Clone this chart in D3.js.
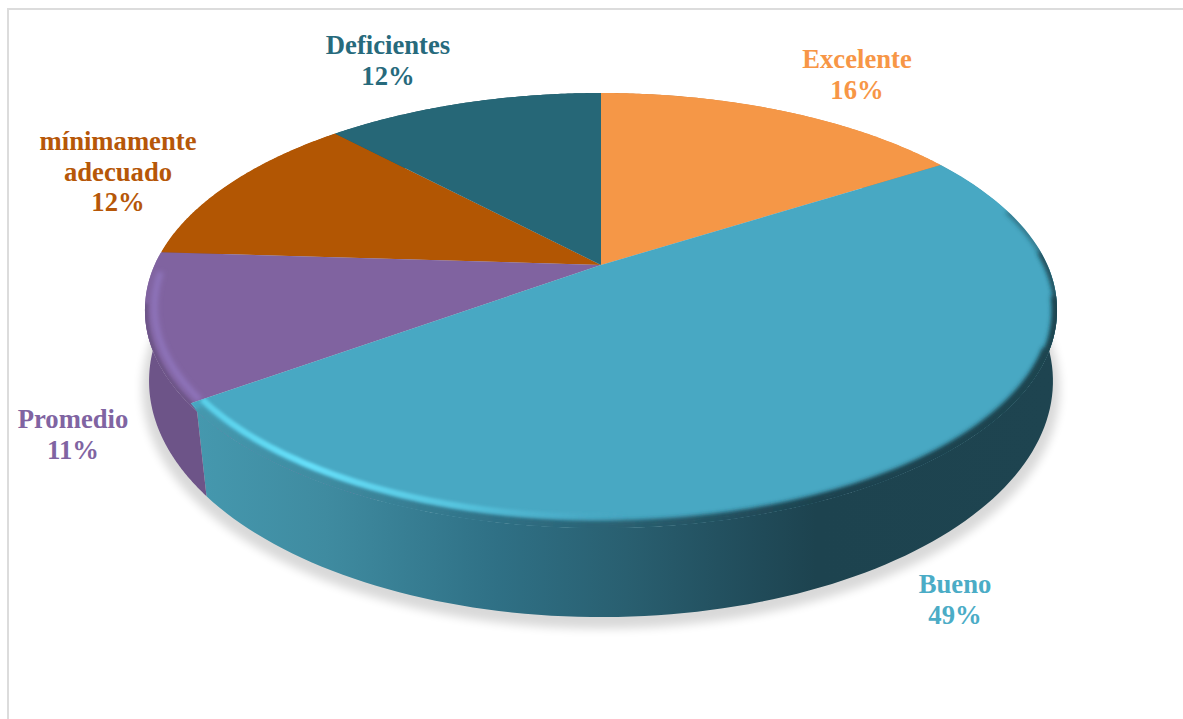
<!DOCTYPE html>
<html lang="es">
<head>
<meta charset="utf-8">
<title>Distribución por nivel</title>
<script src="https://cdn.jsdelivr.net/npm/d3@7"></script>
<style>
  html, body { margin: 0; padding: 0; background: #fff; }
  svg { display: block; }
  text { font-family: "Liberation Serif", serif; font-weight: 700; font-size: 26.67px; text-anchor: middle; }
</style>
</head>
<body>
<svg id="chart" width="1183" height="719"></svg>
<script>
// Category shares, clockwise from twelve o'clock
const categories = ["Excelente", "Bueno", "Promedio", "mínimamente adecuado", "Deficientes"];
const shares = [16, 49, 11, 12, 12];
const topColors = ["#f59747", "#48a8c3", "#8063a0", "#b25603", "#266777"];
const labelColors = ["#f79646", "#4bacc6", "#8064a2", "#b65708", "#276a7c"];
const labelLines = [["Excelente"], ["Bueno"], ["Promedio"], ["mínimamente", "adecuado"], ["Deficientes"]];

// Label block anchors: centre x and first baseline y
const labelX = [857, 955, 73, 118, 388];
const labelY = [68, 593, 428, 150, 54];
const lineHeight = 30.5;

// Perspective discs: the flat face, the outer lip of its bevel, and the lower rim
const topDisc = { x: 601, y: 265, a: 446.4, b: 207, k: -0.2037 };
const lipDisc = { x: 601, y: 273.5, a: 449.4, b: 211.2, k: -0.17 };
const baseDisc = { x: 601, y: 348, a: 447.5, b: 231.4, k: -0.14 };

function project(disc, angle, r = 1) {
  const u = r * Math.sin(angle), v = -r * Math.cos(angle);
  const d = 1 + disc.k * v;
  return [disc.x + disc.a * u / d, disc.y + disc.b * v / d];
}
const onTop = (a, r = 1) => project(topDisc, a, r);
const onLip = a => project(lipDisc, a);
const onBase = a => project(baseDisc, a);

const degrees = d => d * Math.PI / 180;
const angleSamples = (a0, a1) => d3.range(0, 121).map(i => d3.interpolateNumber(a0, a1)(i / 120));
const line = d3.line();

const arcs = d3.pie().sort(null).value(d => d)(shares);
const svg = d3.select("#chart");
const defs = svg.append("defs");

const blur = (id, dev) => defs.append("filter").attr("id", id)
  .attr("filterUnits", "userSpaceOnUse").attr("x", 0).attr("y", 0).attr("width", 1183).attr("height", 719)
  .append("feGaussianBlur").attr("stdDeviation", dev);
blur("soft", 2.4);
blur("softer", 1.5);
blur("shadowBlur", 5);

function hGradient(id, stops, x1, x2) {
  const g = defs.append("linearGradient").attr("id", id)
    .attr("gradientUnits", "userSpaceOnUse")
    .attr("x1", x1).attr("x2", x2).attr("y1", 0).attr("y2", 0);
  stops.forEach(([o, c, op]) => g.append("stop").attr("offset", o).attr("stop-color", c)
    .attr("stop-opacity", op === undefined ? 1 : op));
}

// Wall shading runs left to right across the front of the disc
const wallStops = [[0, "#4598ae"], [0.15, "#3f8ba0"], [0.35, "#2f7085"], [0.5, "#295f70"], [0.66, "#204a58"], [0.72, "#1d434f"], [1, "#1e4450"]];
hGradient("wallBueno", wallStops, 197, 1057);
hGradient("glowBueno", [[0, "#59cfe8", 1], [0.13, "#66e0fa", 1], [0.3, "#58c8e2", 0.9], [0.42, "#4fb6d2", 0.5], [0.5, "#4aa9c5", 0]], 197, 1057);

const wallFill = i => i === 1 ? "url(#wallBueno)" : d3.color(topColors[i]).darker(0.45).formatHex();

// Soft shadow on the page under the disc
const shadowDisc = { ...baseDisc, y: baseDisc.y + 7 };
const outline = angleSamples(0, 2 * Math.PI).map(a => project(shadowDisc, a, 1.015));
svg.append("path")
  .attr("d", line(outline) + "Z")
  .attr("fill", "#000").attr("opacity", 0.15)
  .attr("filter", "url(#shadowBlur)");

// Outer walls
svg.append("g").selectAll("path").data(arcs).join("path")
  .attr("d", d => {
    const s = angleSamples(d.startAngle, d.endAngle);
    return line(s.map(onLip).concat(s.slice().reverse().map(onBase))) + "Z";
  })
  .attr("fill", (d, i) => wallFill(i));

// Upper face of each slice
const slicePath = d => line([[topDisc.x, topDisc.y]].concat(angleSamples(d.startAngle, d.endAngle).map(a => onTop(a)))) + "Z";
const lipPath = (a0, a1) => {
  const s = angleSamples(a0, a1);
  return line(s.map(a => onTop(a)).concat(s.slice().reverse().map(onLip))) + "Z";
};
const topRim = (a0, a1, r) => line(angleSamples(a0, a1).map(a => onTop(a, r)));
const lipRim = (a0, a1) => line(angleSamples(a0, a1).map(onLip));

const faces = svg.append("g");
const paintFace = (d, i) => faces.append("path").attr("d", slicePath(d)).attr("fill", topColors[i]);
[0, 3, 4].forEach(i => paintFace(arcs[i], i));

// The two front slices carry a bevel: a lip past the face edge, shaded into the wall
function bevelGroup(i, fromDeg) {
  const d = arcs[i];
  const lipStart = degrees(fromDeg);
  const clipId = "bevel" + i;
  const clip = defs.append("clipPath").attr("id", clipId);
  clip.append("path").attr("d", slicePath(d));
  clip.append("path").attr("d", lipPath(lipStart, d.endAngle));
  faces.append("path").attr("d", lipPath(lipStart, d.endAngle)).attr("fill", topColors[i]);
  paintFace(d, i);
  return faces.append("g").attr("clip-path", `url(#${clipId})`);
}

const purple = arcs[2];
const purpleRim = bevelGroup(2, 205);
purpleRim.append("path").attr("d", lipRim(degrees(205), degrees(262))).attr("fill", "none")
  .attr("stroke", wallFill(2)).attr("stroke-width", 7).attr("filter", "url(#softer)");
purpleRim.append("path").attr("d", topRim(purple.startAngle, degrees(268), 0.98)).attr("fill", "none")
  .attr("stroke", "#8f74bc").attr("stroke-width", 6).attr("filter", "url(#soft)");

const teal = arcs[1];
const tealRim = bevelGroup(1, 90);
// The rim darkens progressively as it turns toward the front
[[72, 2.5], [84, 5], [96, 10], [110, 14]].forEach(([from, width]) => {
  tealRim.append("path").attr("d", lipRim(degrees(from), teal.endAngle)).attr("fill", "none")
    .attr("stroke", "url(#wallBueno)").attr("stroke-width", width).attr("filter", "url(#soft)");
});
tealRim.append("path").attr("d", topRim(degrees(150), teal.endAngle, 0.975)).attr("fill", "none")
  .attr("stroke", "url(#glowBueno)").attr("stroke-width", 6).attr("filter", "url(#softer)");

// Category labels with their percentages
const labels = svg.append("g");
arcs.forEach((d, i) => {
  const rows = labelLines[i].concat(d3.format("d")(d.value) + "%");
  const t = labels.append("text").attr("fill", labelColors[i]);
  rows.forEach((row, j) => t.append("tspan")
    .attr("x", labelX[i]).attr("y", labelY[i] + j * lineHeight).text(row));
});

// Chart frame: left and top edges only
svg.append("path").attr("d", d3.line()([[8, 719], [8, 9], [1183, 9]]))
  .attr("fill", "none").attr("stroke", "#dcdcdc").attr("stroke-width", 2);
</script>
</body>
</html>
